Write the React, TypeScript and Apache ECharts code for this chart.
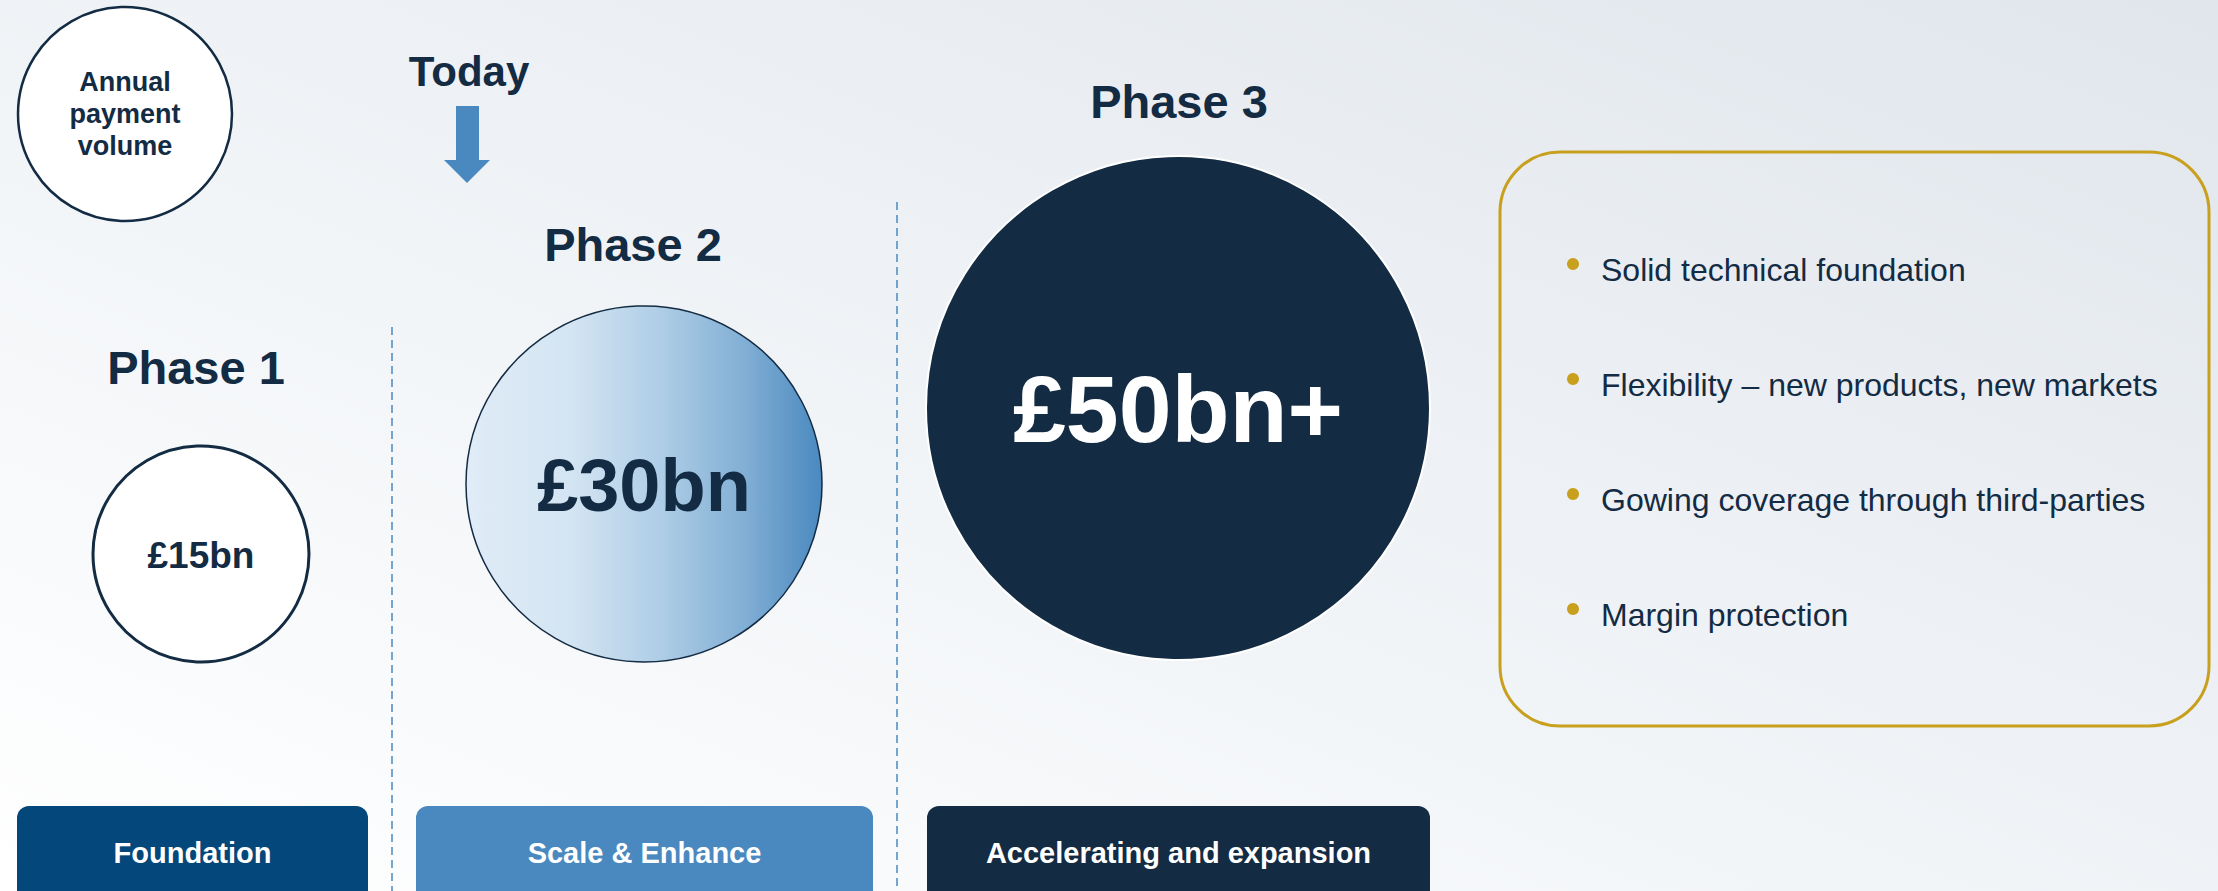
import React, { useEffect, useRef } from "react";
import * as echarts from "echarts";

// ---- content ----
const phases = ["Phase 1", "Phase 2", "Phase 3"];
const volumes = ["£15bn", "£30bn", "£50bn+"];
const stages = ["Foundation", "Scale & Enhance", "Accelerating and expansion"];
const highlights = [
  "Solid technical foundation",
  "Flexibility – new products, new markets",
  "Gowing coverage through third-parties",
  "Margin protection",
];
const legendLabel = "Annual\npayment\nvolume";
const todayLabel = "Today";

// ---- layout ----
const W = 2218;
const H = 891;
const NAVY = "#132B43";
const MID = "#4A89BF";
const DARKBLUE = "#04477A";
const GOLD = "#C8A01E";
const FONT = '"Liberation Sans", Arial, sans-serif';

const phaseTitlePos = [
  [196, 367],
  [633, 244],
  [1179, 101],
];
const circlePos = [
  [201, 554, 108],
  [644, 484, 178],
  [1178, 408, 252],
];
const volumeFont = [37, 74, 95];
const stageBoxes = [
  [17, 806, 351, DARKBLUE],
  [416, 806, 457, MID],
  [927, 806, 503, NAVY],
];
const dividers = [
  [392, 327],
  [897, 202],
];

function txt(text: string, x: number, y: number, size: number, color: string, weight = "bold", align = "center", lh?: number) {
  return {
    type: "text",
    style: {
      text,
      x,
      y,
      fill: color,
      fontSize: size,
      fontWeight: weight,
      fontFamily: FONT,
      textAlign: align,
      textVerticalAlign: "middle",
      align,
      verticalAlign: "middle",
      lineHeight: lh,
    },
    z: 10,
  };
}

export default function App() {
  const ref = useRef<HTMLDivElement>(null);
  useEffect(() => {
    if (!ref.current) return;
    const chart = echarts.init(ref.current, null, { renderer: "svg" });
    const els: any[] = [];

    // background
    els.push({
      type: "rect",
      shape: { x: 0, y: 0, width: W, height: H },
      style: {
        fill: new echarts.graphic.LinearGradient(1, 0, 0, 1, [
          { offset: 0, color: "#E1E6EC" },
          { offset: 0.55, color: "#F1F4F7" },
          { offset: 1, color: "#FFFFFF" },
        ]),
      },
      z: 0,
    });

    // legend circle
    els.push({
      type: "circle",
      shape: { cx: 125, cy: 114, r: 107 },
      style: { fill: "#FFFFFF", stroke: NAVY, lineWidth: 2.5 },
      z: 5,
    });
    els.push(txt(legendLabel, 125, 114, 27, NAVY, "bold", "center", 32));

    // today + arrow
    els.push(txt(todayLabel, 469, 71, 42, NAVY));
    els.push({
      type: "polygon",
      shape: {
        points: [
          [456, 106],
          [479, 106],
          [479, 160],
          [490, 160],
          [467, 183],
          [444, 160],
          [456, 160],
        ],
      },
      style: { fill: MID },
      z: 5,
    });

    // dividers
    dividers.forEach(([x, y0]) => {
      els.push({
        type: "line",
        shape: { x1: x, y1: y0, x2: x, y2: H },
        style: { stroke: MID, lineWidth: 1.5, lineDash: [8, 5] },
        z: 3,
      });
    });

    // phases
    phases.forEach((p, i) => {
      els.push(txt(p, phaseTitlePos[i][0], phaseTitlePos[i][1], 47, NAVY));
      const [cx, cy, r] = circlePos[i];
      let style: any;
      if (i === 0) style = { fill: "#FFFFFF", stroke: NAVY, lineWidth: 3 };
      else if (i === 1)
        style = {
          fill: new echarts.graphic.LinearGradient(0, 0, 1, 0, [
            { offset: 0, color: "#E0ECF7" },
            { offset: 0.3, color: "#D3E4F2" },
            { offset: 0.55, color: "#AECDE6" },
            { offset: 0.78, color: "#82AFD5" },
            { offset: 1, color: "#4A89BF" },
          ]),
          stroke: NAVY,
          lineWidth: 1.5,
        };
      else style = { fill: NAVY, stroke: "#FFFFFF", lineWidth: 2 };
      els.push({ type: "circle", shape: { cx, cy, r }, style, z: 5 });
      els.push(txt(volumes[i], cx, cy + 1, volumeFont[i], i === 2 ? "#FFFFFF" : NAVY));
    });

    // stage boxes
    stages.forEach((s, i) => {
      const [x, y, w, c] = stageBoxes[i] as any;
      els.push({
        type: "rect",
        shape: { x, y, width: w, height: 110, r: 12 },
        style: { fill: c },
        z: 5,
      });
      els.push(txt(s, x + w / 2, 853, 29, "#FFFFFF"));
    });

    // highlight box
    els.push({
      type: "rect",
      shape: { x: 1500, y: 152, width: 709, height: 574, r: 60 },
      style: { fill: "rgba(0,0,0,0)", stroke: GOLD, lineWidth: 3 },
      z: 5,
    });
    highlights.forEach((h, i) => {
      const by = 264 + i * 115;
      els.push({
        type: "circle",
        shape: { cx: 1573, cy: by, r: 6 },
        style: { fill: GOLD },
        z: 6,
      });
      els.push(txt(h, 1601, by + 6, 32, NAVY, "normal", "left"));
    });

    chart.setOption({
      animation: false,
      graphic: { elements: els },
    });
    return () => chart.dispose();
  }, []);
  return (
    <div
      ref={ref}
      style={{ position: "absolute", left: 0, top: 0, width: W, height: H }}
    />
  );
}
